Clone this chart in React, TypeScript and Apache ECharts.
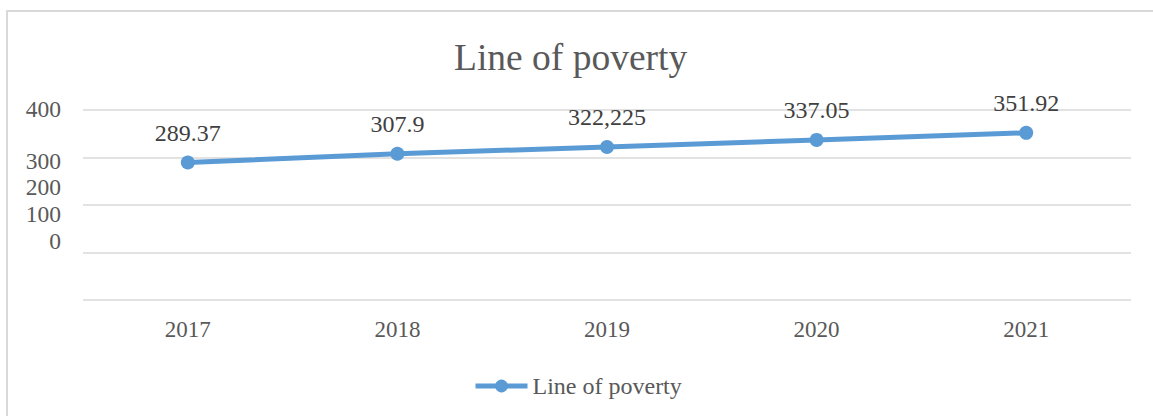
import React, { useEffect, useRef } from "react";
import * as echarts from "echarts";

const categories = ["2017", "2018", "2019", "2020", "2021"];
const seriesName = "Line of poverty";
const values = [289.37, 307.9, 322.225, 337.05, 351.92];
const valueLabels = ["289.37", "307.9", "322,225", "337.05", "351.92"];
const yTickLabels = ["0", "100", "200", "300", "400"];

// label vertical displacement (px) replicating the original's misplaced axis labels
const yLabelShift: Record<string, number> = { "0": -59, "100": -39, "200": -18, "300": 3, "400": -1 };

const FONT = "Liberation Serif";

export default function App() {
  const ref = useRef<HTMLDivElement>(null);
  useEffect(() => {
    if (!ref.current) return;
    const chart = echarts.init(ref.current, null, { renderer: "svg" });
    const rich: Record<string, any> = {};
    yTickLabels.forEach((t, i) => {
      const s = yLabelShift[t] || 0;
      rich["y" + i] = {
        fontSize: 23.5,
        fontFamily: FONT,
        color: "#595959",
        padding: s < 0 ? [0, 0, -2 * s, 0] : [2 * s, 0, 0, 0],
      };
    });
    chart.setOption({
      animation: false,
      backgroundColor: "#ffffff",
      textStyle: { fontFamily: FONT },
      title: {
        text: "Line of poverty",
        left: 449,
        top: 33,
        textStyle: { fontFamily: FONT, fontSize: 37.5, fontWeight: "normal", color: "#595959" },
      },
      legend: {
        data: [seriesName],
        top: 369,
        left: 468,
        itemWidth: 52,
        itemHeight: 16,
        itemGap: 10,
        lineStyle: { width: 5 },
        textStyle: { fontFamily: FONT, fontSize: 24, color: "#595959" },
      },
      grid: { left: 83, right: 22, top: 110, bottom: 116 },
      xAxis: {
        type: "category",
        data: categories,
        boundaryGap: true,
        axisLine: { show: false },
        axisTick: { show: false },
        axisLabel: { margin: 18, fontFamily: FONT, fontSize: 23, color: "#595959" },
      },
      yAxis: {
        type: "value",
        min: 0,
        max: 400,
        interval: 100,
        axisLine: { show: false },
        axisTick: { show: false },
        splitLine: { lineStyle: { color: "#d9d9d9", width: 1.5 } },
        axisLabel: {
          margin: 22,
          formatter: (v: number) => {
            const i = yTickLabels.indexOf(String(v));
            return i >= 0 ? `{y${i}|${yTickLabels[i]}}` : "";
          },
          rich,
        },
      },
      series: [
        {
          name: seriesName,
          type: "line",
          data: values,
          symbol: "circle",
          symbolSize: 14,
          itemStyle: { color: "#5B9BD5" },
          lineStyle: { color: "#5B9BD5", width: 5 },
          label: {
            show: true,
            position: "top",
            distance: 11,
            fontFamily: FONT,
            fontSize: 24,
            color: "#404040",
            formatter: (p: any) => `{v|${valueLabels[p.dataIndex]}}`,
            rich: {
              v: { fontFamily: FONT, fontSize: 24, color: "#404040" },
            },
          },
        },
      ],
      graphic: [
        {
          type: "rect",
          shape: { x: 7, y: 11, width: 1170, height: 430 },
          style: { fill: "none", stroke: "#d9d9d9", lineWidth: 2 },
          silent: true,
        },
      ],
    });
    return () => chart.dispose();
  }, []);
  return (
    <div
      ref={ref}
      style={{ position: "fixed", left: 0, top: 0, width: 1153, height: 416 }}
    />
  );
}
